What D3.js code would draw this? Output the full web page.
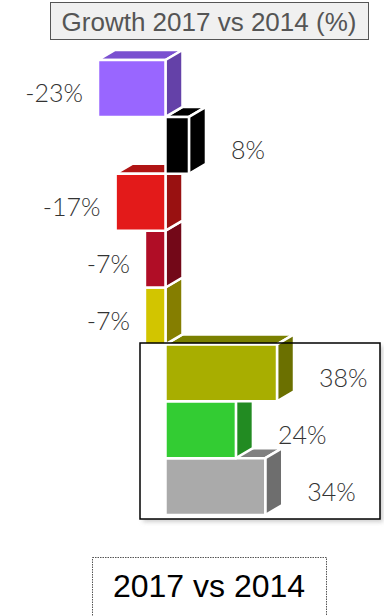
<!DOCTYPE html>
<html>
<head>
<meta charset="utf-8">
<script src="https://cdn.jsdelivr.net/npm/d3@7"></script>
<style>
  html, body { margin: 0; padding: 0; background: #fff; }
  svg { display: block; }
</style>
</head>
<body>
<svg id="chart" width="384" height="616"></svg>
<script>
// Growth per segment, 2017 vs 2014, in percent
const categories = ["Segment 1", "Segment 2", "Segment 3", "Segment 4",
                    "Segment 5", "Segment 6", "Segment 7", "Segment 8"];
const values = [-23, 8, -17, -7, -7, 38, 24, 34];
const labels = values.map(v => v + "%");

// Face colours: front, side and top of each block
const frontColors = ["#9966ff", "#000000", "#e31a1a", "#b00d26", "#d2c500", "#a8ae00", "#33cc33", "#aaaaaa"];
const sideColors  = ["#6441a8", "#000000", "#991111", "#730818", "#857e00", "#6b7000", "#228b22", "#6e6e6e"];
const topColors   = ["#7a50d0", "#000000", "#b01414", "#8a0a1c", "#9a9200", "#7a8000", "#29a329", "#808080"];

const titleText = "Growth 2017 vs 2014 (%)";
const footerText = "2017 vs 2014";

const svg = d3.select("#chart");

const x = d3.scaleLinear().domain([-23, 38]).range([98, 277]);
const y = d3.scaleBand().domain(categories).range([60, 515]).paddingInner(0);

const dx = 17, dy = -10;
const x0 = x(0);

// soft shadow behind the highlight frame
const defs = svg.append("defs");
const blur = defs.append("filter").attr("id", "soft").attr("x", "-10%").attr("y", "-10%")
  .attr("width", "130%").attr("height", "130%");
blur.append("feGaussianBlur").attr("stdDeviation", 2.2);

const frame = { x: 140, y: 343, w: 240, h: 176 };
svg.append("rect")
  .attr("x", frame.x + 3).attr("y", frame.y + 3)
  .attr("width", frame.w).attr("height", frame.h)
  .attr("fill", "#cfcfcf").attr("filter", "url(#soft)");
svg.append("rect")
  .attr("x", frame.x).attr("y", frame.y)
  .attr("width", frame.w).attr("height", frame.h)
  .attr("fill", "#fff");

// Title box
svg.append("rect")
  .attr("x", 50.5).attr("y", 2.5).attr("width", 318).attr("height", 37)
  .attr("fill", "#f0f0f0").attr("stroke", "#555").attr("stroke-width", 1);
svg.append("text")
  .attr("x", 209).attr("y", 31)
  .attr("text-anchor", "middle")
  .attr("font-family", "Liberation Sans, Arial, sans-serif")
  .attr("font-size", 26)
  .attr("fill", "#555")
  .text(titleText);

// Blocks, drawn from the bottom row upwards so upper blocks sit in front
const rows = categories.map((c, i) => ({ c, v: values[i], i }));
const bars = svg.append("g").attr("class", "bars");

rows.slice().reverse().forEach(d => {
  const xa = Math.min(x(d.v), x0);
  const xb = Math.max(x(d.v), x0);
  const y0 = y(d.c);
  const y1 = y0 + y.bandwidth();
  const g = bars.append("g")
    .attr("stroke", "#fff").attr("stroke-width", 2.5).attr("stroke-linejoin", "round");
  // top face
  g.append("polygon")
    .attr("points", [[xa, y0], [xa + dx, y0 + dy], [xb + dx, y0 + dy], [xb, y0]].join(" "))
    .attr("fill", topColors[d.i]);
  // side face
  g.append("polygon")
    .attr("points", [[xb, y0], [xb + dx, y0 + dy], [xb + dx, y1 + dy], [xb, y1]].join(" "))
    .attr("fill", sideColors[d.i]);
  // front face
  g.append("rect")
    .attr("x", xa).attr("y", y0)
    .attr("width", xb - xa).attr("height", y1 - y0)
    .attr("fill", frontColors[d.i]);
});

// Value labels
svg.append("g").selectAll("text")
  .data(rows)
  .join("text")
  .attr("x", d => d.v < 0 ? x(d.v) - 15 : x(d.v) + dx + 25)
  .attr("y", d => y(d.c) + y.bandwidth() / 2 + 4)
  .attr("dominant-baseline", "central")
  .attr("text-anchor", d => d.v < 0 ? "end" : "start")
  .attr("font-family", "Lato, 'Open Sans', sans-serif")
  .attr("font-weight", 300)
  .attr("font-size", 25)
  .attr("fill", "#333")
  .text((d, i) => labels[i]);

// Highlight frame around the last three rows
svg.append("rect")
  .attr("x", frame.x).attr("y", frame.y)
  .attr("width", frame.w).attr("height", frame.h)
  .attr("fill", "none").attr("stroke", "#000").attr("stroke-width", 1.5);

// Footer box
svg.append("rect")
  .attr("x", 92.5).attr("y", 557.5).attr("width", 234).attr("height", 70)
  .attr("fill", "#fff").attr("stroke", "#555").attr("stroke-width", 1)
  .attr("stroke-dasharray", "1.5,1");
svg.append("text")
  .attr("x", 209).attr("y", 597)
  .attr("text-anchor", "middle")
  .attr("font-family", "Liberation Sans, Arial, sans-serif")
  .attr("font-size", 32)
  .attr("fill", "#000")
  .text(footerText);
</script>
</body>
</html>
